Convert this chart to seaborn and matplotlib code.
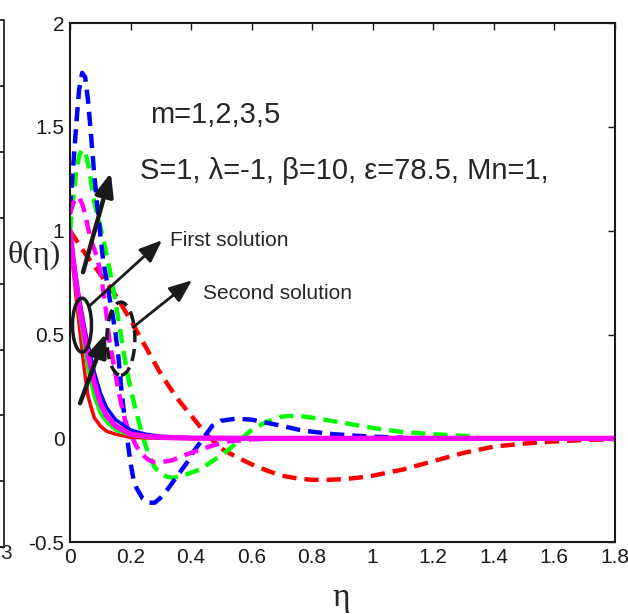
import numpy as np
import pandas as pd
import matplotlib
matplotlib.use('Agg')
import matplotlib.pyplot as plt
from matplotlib.patches import Ellipse
import seaborn as sns

# ---------------------------------------------------------------
# Data (eta, theta) for m = 1,2,3,5
# ---------------------------------------------------------------
# second solution (dashed)
eta_red2 = [0, 0.05, 0.1, 0.15, 0.2, 0.25, 0.3, 0.35, 0.4, 0.45, 0.5, 0.55, 0.6, 0.65,
            0.7, 0.75, 0.8, 0.85, 0.9, 0.95, 1.0, 1.1, 1.2, 1.3, 1.4, 1.5, 1.6, 1.7, 1.8]
theta_red2 = [1.0, 0.89, 0.79, 0.69, 0.57, 0.44, 0.31, 0.2, 0.11, 0.02, -0.05, -0.09, -0.125,
              -0.155, -0.18, -0.193, -0.2, -0.2, -0.197, -0.19, -0.18, -0.15, -0.11, -0.07,
              -0.04, -0.025, -0.015, -0.008, -0.004]

eta_green2 = [0, 0.01, 0.02, 0.03, 0.04, 0.05, 0.06, 0.07, 0.08, 0.09, 0.1, 0.11, 0.12, 0.13,
              0.14, 0.15, 0.16, 0.17, 0.18, 0.19, 0.2, 0.22, 0.24, 0.26, 0.28, 0.3, 0.32, 0.34,
              0.37, 0.4, 0.43, 0.47, 0.52, 0.56, 0.6, 0.65, 0.7, 0.75, 0.82, 0.9, 1.0, 1.1,
              1.2, 1.3, 1.35]
theta_green2 = [1.0, 1.15, 1.28, 1.36, 1.39, 1.38, 1.32, 1.23, 1.14, 1.08, 1.02, 0.96, 0.89,
                0.82, 0.74, 0.66, 0.57, 0.48, 0.39, 0.31, 0.24, 0.12, 0.01, -0.08, -0.14,
                -0.17, -0.185, -0.19, -0.18, -0.165, -0.15, -0.11, -0.06, -0.01, 0.04, 0.08,
                0.105, 0.11, 0.095, 0.075, 0.05, 0.03, 0.02, 0.012, 0.01]

eta_blue2 = [0, 0.01, 0.02, 0.03, 0.04, 0.05, 0.06, 0.07, 0.08, 0.09, 0.1, 0.11, 0.12, 0.13,
             0.14, 0.15, 0.16, 0.17, 0.18, 0.19, 0.2, 0.21, 0.22, 0.24, 0.26, 0.28, 0.3, 0.32,
             0.35, 0.385, 0.41, 0.44, 0.47, 0.5, 0.55, 0.6, 0.65, 0.7, 0.76, 0.8, 0.87, 0.95,
             1.0, 1.1]
theta_blue2 = [1.1, 1.3, 1.5, 1.68, 1.76, 1.74, 1.62, 1.45, 1.27, 1.12, 0.98, 0.85, 0.77,
               0.68, 0.6, 0.51, 0.39, 0.23, 0.1, -0.01, -0.12, -0.2, -0.24, -0.29, -0.31,
               -0.31, -0.285, -0.25, -0.19, -0.12, -0.06, 0.0, 0.06, 0.085, 0.095, 0.09,
               0.075, 0.06, 0.04, 0.032, 0.02, 0.012, 0.008, 0.003]

eta_mag2 = [0, 0.01, 0.02, 0.03, 0.04, 0.05, 0.06, 0.07, 0.08, 0.09, 0.1, 0.11, 0.12, 0.13,
            0.14, 0.15, 0.16, 0.17, 0.18, 0.19, 0.2, 0.22, 0.24, 0.26, 0.28, 0.3, 0.34, 0.37,
            0.4, 0.43, 0.47, 0.52, 0.6, 0.7, 0.8]
theta_mag2 = [1.08, 1.13, 1.16, 1.16, 1.13, 1.08, 1.01, 0.95, 0.91, 0.87, 0.8, 0.71, 0.6,
              0.47, 0.39, 0.31, 0.23, 0.16, 0.1, 0.05, 0.02, -0.04, -0.08, -0.105, -0.115,
              -0.115, -0.105, -0.085, -0.07, -0.055, -0.035, -0.015, -0.005, 0, 0]

# first solution (solid)
eta1 = [0, 0.01, 0.02, 0.03, 0.04, 0.05, 0.06, 0.08, 0.1, 0.12, 0.15, 0.2, 0.25, 0.3, 0.4,
        0.6, 1.0, 1.4, 1.8]
theta_red1 = [1.0, 0.82, 0.68, 0.55, 0.42, 0.3, 0.2, 0.1, 0.06, 0.035, 0.02, 0.005, 0.002,
              0, 0, 0, 0, 0, 0]
theta_green1 = [1.0, 0.85, 0.72, 0.61, 0.52, 0.42, 0.33, 0.2, 0.12, 0.08, 0.04, 0.015,
                0.006, 0.002, 0, 0, 0, 0, 0]
theta_blue1 = [1.0, 0.88, 0.78, 0.68, 0.6, 0.52, 0.45, 0.32, 0.22, 0.15, 0.09, 0.04, 0.02,
               0.01, 0.003, 0, 0, 0, 0]
theta_mag1 = [1.0, 0.87, 0.75, 0.65, 0.56, 0.48, 0.4, 0.27, 0.17, 0.11, 0.06, 0.02, 0.01,
              0.005, 0.001, 0, 0, 0, 0]

x_ticks = [0, 0.2, 0.4, 0.6, 0.8, 1, 1.2, 1.4, 1.6, 1.8]
x_ticklabels = ['0', '0.2', '0.4', '0.6', '0.8', '1', '1.2', '1.4', '1.6', '1.8']
y_ticks = [-0.5, 0, 0.5, 1, 1.5, 2]
y_ticklabels = ['-0.5', '0', '0.5', '1', '1.5', '2']

RED, GREEN, BLUE, MAG = '#ff0000', '#00ff00', '#0000ff', '#ff00ff'

sns.set_theme(style='white')
sans = ['Liberation Sans', 'DejaVu Sans']
serif = ['Liberation Serif', 'DejaVu Serif']
plt.rcParams['font.family'] = sans

fig = plt.figure(figsize=(6.28, 6.14), dpi=100)
ax = fig.add_axes([0.1115, 0.117, 0.8675, 0.8455])

# ---------------------------------------------------------------
# Second solutions (dashed)
# ---------------------------------------------------------------
dashed = [(eta_red2, theta_red2, RED), (eta_green2, theta_green2, GREEN),
          (eta_blue2, theta_blue2, BLUE), (eta_mag2, theta_mag2, MAG)]
for e, t, c in dashed:
    df = pd.DataFrame({'eta': e, 'theta': t})
    sns.lineplot(data=df, x='eta', y='theta', color=c, lw=3.2, ax=ax,
                 sort=False, estimator=None)
    ax.lines[-1].set_dashes((3.2, 1.8))

# ---------------------------------------------------------------
# First solutions (solid)
# ---------------------------------------------------------------
solid = [(theta_red1, RED, 2.5), (theta_green1, GREEN, 2.5),
         (theta_blue1, BLUE, 2.5), (theta_mag1, MAG, 3.8)]
for t, c, w in solid:
    df = pd.DataFrame({'eta': eta1, 'theta': t})
    sns.lineplot(data=df, x='eta', y='theta', color=c, lw=w, ax=ax,
                 sort=False, estimator=None)

# ---------------------------------------------------------------
# Axes styling (MATLAB look)
# ---------------------------------------------------------------
ax.set_xlim(0, 1.8)
ax.set_ylim(-0.5, 2)
ax.set_xticks(x_ticks)
ax.set_xticklabels(x_ticklabels)
ax.set_yticks(y_ticks)
ax.set_yticklabels(y_ticklabels)
ax.tick_params(direction='in', length=5, width=1, top=True, right=True,
               labelsize=15, colors='k', pad=4)
for s in ax.spines.values():
    s.set_color('k')
    s.set_linewidth(1.5)

ax.set_xlabel('η', family=serif, fontsize=24)
ax.xaxis.set_label_coords(0.497, -0.078)
ax.set_ylabel('θ(η)', family=serif, fontsize=23, rotation=0, ha='center', va='center')
ax.yaxis.set_label_coords(-0.066, 0.553)

# ---------------------------------------------------------------
# Annotations
# ---------------------------------------------------------------
ax.text(0.264, 1.52, 'm=1,2,3,5', fontsize=21, va='baseline')
ax.text(0.231, 1.25, 'S=1, λ=-1, β=10, ε=78.5, Mn=1,', fontsize=21, va='baseline')
ax.text(0.33, 0.925, 'First solution', fontsize=15, va='baseline')
ax.text(0.44, 0.67, 'Second solution', fontsize=15, va='baseline')

arrows = [((0.135, 1.28), (0.043, 0.80), 3.2),
          ((0.119, 0.506), (0.033, 0.169), 3.2),
          ((0.304, 0.954), (0.066, 0.64), 2),
          ((0.403, 0.761), (0.208, 0.535), 2)]
for head, tail, w in arrows:
    ax.annotate('', xy=head, xytext=tail,
                arrowprops=dict(arrowstyle='-|>,head_length=0.55,head_width=0.22',
                                lw=w, color='k', mutation_scale=25,
                                shrinkA=0, shrinkB=0))

ax.add_patch(Ellipse((0.0396, 0.545), 0.0627, 0.26, fill=False, ec='k', lw=2.5, zorder=5))
ax.add_patch(Ellipse((0.168, 0.48), 0.0925, 0.352, fill=False, ec='k', lw=2.5,
                     ls=(0, (3.5, 2)), zorder=5))

# sliver of the neighbouring panel at the left edge
side = fig.add_axes([-0.05, 0.109, 0.057, 0.858])
side.set_xlim(0, 1)
side.set_ylim(0, 8)
for k in ['left', 'top']:
    side.spines[k].set_visible(False)
side.spines['right'].set_color('k')
side.spines['bottom'].set_color('k')
side.set_xticks([])
side.yaxis.tick_right()
side.set_yticks(range(9))
side.set_yticklabels([])
side.tick_params(axis='y', direction='in', length=4, color='k')
side.patch.set_alpha(0)
fig.text(0.0, 0.099, '3', fontsize=15, va='center', ha='left')

fig.savefig('out.png', dpi=100)
